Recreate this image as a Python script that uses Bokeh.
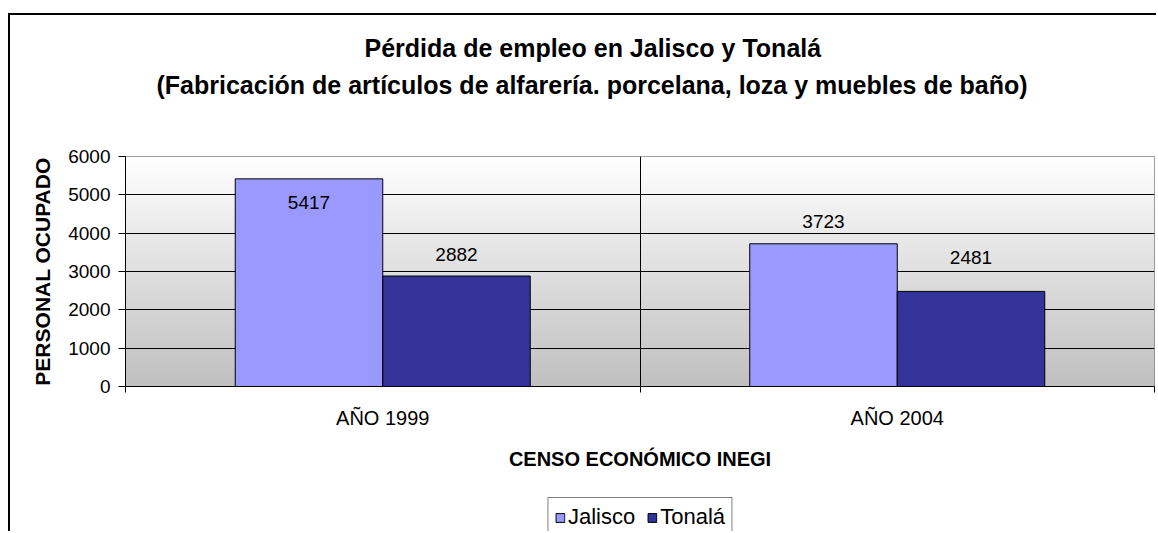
import numpy as np
from bokeh.plotting import figure
from bokeh.layouts import column
from bokeh.models import Range1d, FixedTicker, Title, Legend, LegendItem
from bokeh.core.properties import value
from bokeh.embed import file_html
from bokeh.resources import INLINE

# ---- data ----
categories = ["AÑO 1999", "AÑO 2004"]
series = ["Jalisco", "Tonalá"]
jalisco = [5417, 3723]
tonala = [2882, 2481]
y_ticks = [0, 1000, 2000, 3000, 4000, 5000, 6000]

title_1 = "Pérdida de empleo en Jalisco y Tonalá"
title_2 = "(Fabricación de artículos de alfarería. porcelana, loza y muebles de baño)"
x_title = "CENSO ECONÓMICO INEGI"
y_title = "PERSONAL OCUPADO"

# ---- style ----
FONT = "Liberation Sans"
colors = ["#9999FF", "#333399"]
bar_w = 0.2867
off_j = [24, -22]   # label pixel offsets (screen)
off_t = [-22, -34]

n = len(categories)
p = figure(width=1146, height=466,
           x_range=Range1d(0, n), y_range=Range1d(y_ticks[0], y_ticks[-1]),
           output_backend="svg", toolbar_location=None, title=None,
           min_border_left=115, min_border_right=2,
           min_border_top=141, min_border_bottom=95)
p.border_fill_color = "white"
p.outline_line_color = "#808080"
p.outline_line_width = 1

# gradient background
rows = 300
tt = np.linspace(0.0, 1.0, rows)
g = (192 + 63 * tt).astype(np.uint8)
img = np.zeros((rows, 1), dtype=np.uint32)
v = img.view(dtype=np.uint8).reshape((rows, 1, 4))
v[:, 0, 0] = g
v[:, 0, 1] = g
v[:, 0, 2] = g
v[:, 0, 3] = 255
p.image_rgba(image=[img], x=p.x_range.start, y=p.y_range.start,
             dw=p.x_range.end - p.x_range.start,
             dh=p.y_range.end - p.y_range.start, level="image")

xs_j = [i + 0.5 - bar_w / 2 for i in range(n)]
xs_t = [i + 0.5 + bar_w / 2 for i in range(n)]
rj = p.vbar(x=xs_j, top=jalisco, bottom=0, width=bar_w,
            fill_color=colors[0], line_color="black", line_width=1)
rt = p.vbar(x=xs_t, top=tonala, bottom=0, width=bar_w,
            fill_color=colors[1], line_color="black", line_width=1)

p.text(x=xs_j, y=jalisco, text=[str(a) for a in jalisco], y_offset=off_j,
       text_align="center", text_baseline="middle",
       text_font=value(FONT), text_font_size="19px", text_color="black")
p.text(x=xs_t, y=tonala, text=[str(a) for a in tonala], y_offset=off_t,
       text_align="center", text_baseline="middle",
       text_font=value(FONT), text_font_size="19px", text_color="black")

# titles (spacer, line 2, line 1 -- stacked outward from the plot)
sp_top = Title(text=" ", text_font_size="2px", standoff=54)
t2 = Title(text=title_2, align="left", offset=31, text_font=FONT,
           text_font_size="25px", text_font_style="bold", text_color="black",
           standoff=0)
t1 = Title(text=title_1, align="left", offset=239, text_font=FONT,
           text_font_size="25px", text_font_style="bold", text_color="black",
           standoff=14)
p.add_layout(sp_top, "above")
p.add_layout(t2, "above")
p.add_layout(t1, "above")

# y axis
ya = p.yaxis[0]
ya.ticker = FixedTicker(ticks=y_ticks)
ya.minor_tick_line_color = None
ya.major_tick_out = 7
ya.major_tick_in = 0
ya.major_label_standoff = 8
ya.major_label_text_font = FONT
ya.major_label_text_font_size = "19px"
ya.major_label_text_color = "black"
ya.axis_line_color = "black"
ya.major_tick_line_color = "black"
ya.axis_label = y_title
ya.axis_label_text_font = FONT
ya.axis_label_text_font_size = "21px"
ya.axis_label_text_font_style = "bold"
ya.axis_label_text_color = "black"
ya.axis_label_standoff = 11

# x axis
xa = p.xaxis[0]
xa.ticker = FixedTicker(ticks=[i + 0.5 for i in range(n)],
                        minor_ticks=[float(i) for i in range(n + 1)])
xa.major_label_overrides = {i + 0.5: c for i, c in enumerate(categories)}
xa.major_tick_out = 0
xa.major_tick_in = 0
xa.minor_tick_out = 6
xa.minor_tick_in = 0
xa.minor_tick_line_color = "black"
xa.axis_line_color = "black"
xa.major_label_standoff = 14
xa.major_label_text_font = FONT
xa.major_label_text_font_size = "20px"
xa.major_label_text_color = "black"
xa.axis_label = x_title
xa.axis_label_text_font = FONT
xa.axis_label_text_font_size = "20px"
xa.axis_label_text_font_style = "bold"
xa.axis_label_text_color = "black"
xa.axis_label_standoff = 16

# grids
p.ygrid.ticker = FixedTicker(ticks=y_ticks[1:-1])
p.ygrid.grid_line_color = "black"
p.ygrid.grid_line_width = 1
p.xgrid.ticker = FixedTicker(ticks=[float(i) for i in range(1, n)])
p.xgrid.grid_line_color = "black"
p.xgrid.grid_line_width = 1

# ---- legend strip below the chart ----
p2 = figure(width=1146, height=50, x_range=Range1d(0, 1), y_range=Range1d(0, 1),
            x_axis_type=None, y_axis_type=None,
            output_backend="svg", toolbar_location=None, title=None,
            min_border_left=115, min_border_right=2,
            min_border_top=0, min_border_bottom=0)
p2.outline_line_color = None
p2.border_fill_color = "white"
p2.background_fill_color = "white"
# legend proxies (hidden; only their swatches appear in the legend)
lj = p2.vbar(x=xs_j, top=jalisco, bottom=0, width=bar_w, fill_color=colors[0],
             line_color="black", line_width=1, visible=False)
lt = p2.vbar(x=xs_t, top=tonala, bottom=0, width=bar_w, fill_color=colors[1],
             line_color="black", line_width=1, visible=False)
legend = Legend(items=[LegendItem(label=series[0], renderers=[lj]),
                       LegendItem(label=series[1], renderers=[lt])],
                orientation="horizontal", location="top_center",
                label_text_font=FONT, label_text_font_size="22px",
                label_text_color="black", glyph_width=11, glyph_height=11,
                label_standoff=3, spacing=11, padding=6, margin=16,
                border_line_color="black", border_line_width=1,
                background_fill_color="white", background_fill_alpha=1.0,
                inactive_fill_alpha=0.0, click_policy="none")
p2.add_layout(legend)

layout = column(p, p2, spacing=0,
                styles={"border-left": "2px solid black",
                        "border-top": "2px solid black",
                        "margin-top": "13px", "margin-left": "8px"})

open("out.html", "w").write(file_html(layout, INLINE))
